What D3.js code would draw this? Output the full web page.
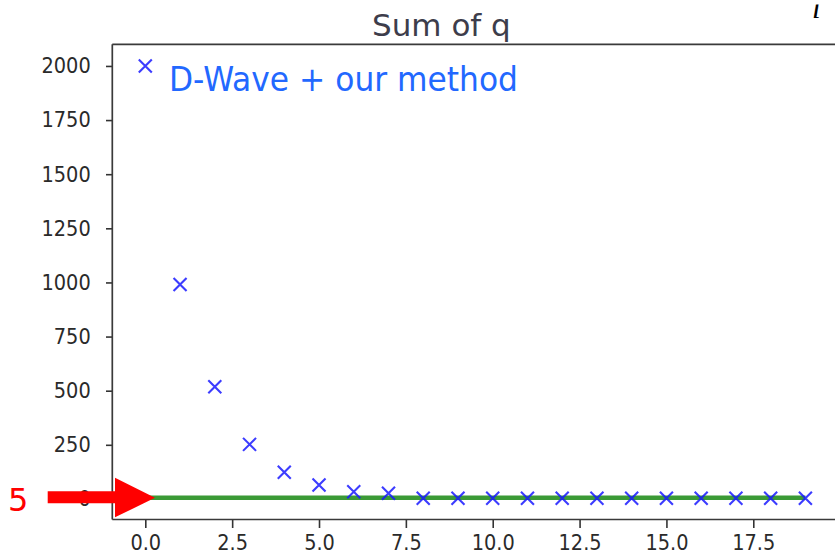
<!DOCTYPE html>
<html>
<head>
<meta charset="utf-8">
<script src="https://cdn.jsdelivr.net/npm/d3@7"></script>
<style>
  body { margin: 0; background: #fff; }
  svg { display: block; }
</style>
</head>
<body>
<div id="chart"></div>
<script>
// data
var iterations = [0,1,2,3,4,5,6,7,8,9,10,11,12,13,14,15,16,17,18,19]
var sumQ = [2000, 990, 518, 252, 123, 64, 33, 26, 3, 3, 3, 3, 3, 3, 3, 3, 3, 3, 3, 3]
var targetValue = 5
var yTicks = [0, 250, 500, 750, 1000, 1250, 1500, 1750, 2000]
var xTicks = [0, 2.5, 5, 7.5, 10, 12.5, 15, 17.5]
var titleText = "Sum of q"
var labelText = "D-Wave + our method"
var arrowLabel = "5"

var width = 835, height = 553
var margin = {top: 44.3, right: -3.4, bottom: 33.5, left: 112.3}

var svg = d3.select("#chart")
  .append("svg")
  .attr("width", width)
  .attr("height", height)

// matplotlib style 5% margins
var x = d3.scaleLinear()
  .domain([-0.95, 19.95])
  .range([margin.left, width - margin.right])

var y = d3.scaleLinear()
  .domain([-95, 2100])
  .range([height - margin.bottom, margin.top])

// axes
var yAxis = svg.append("g")
  .attr("transform", "translate(" + margin.left + ",0)")
  .call(d3.axisLeft(y).tickValues(yTicks).tickSize(6.3).tickPadding(15.3).tickFormat(d3.format("d")))
var xAxis = svg.append("g")
  .attr("transform", "translate(0," + (height - margin.bottom) + ")")
  .call(d3.axisBottom(x).tickValues(xTicks).tickSize(8.5).tickPadding(6.5).tickFormat(d3.format(".1f")))

;[xAxis, yAxis].forEach(function(a) {
  a.select(".domain").remove()
  a.selectAll("line").attr("stroke", "#333").attr("stroke-width", 1.6)
  a.selectAll("text")
    .attr("fill", "#2a2a2a")
    .style("font-family", "'DejaVu Sans Condensed', 'DejaVu Sans'")
    .style("font-stretch", "condensed")
    .style("font-size", "21.5px")
})

// spines
var x0 = x.range()[0], x1 = x.range()[1], yb = y.range()[0], yt = y.range()[1]
var spines = [[x0, yt, x0, yb], [x0, yb, x1, yb], [x0, yt, x1, yt], [x1, yt, x1, yb]]
svg.append("g").selectAll("line")
  .data(spines)
  .enter()
  .append("line")
    .attr("x1", function(d) { return d[0] })
    .attr("y1", function(d) { return d[1] })
    .attr("x2", function(d) { return d[2] })
    .attr("y2", function(d) { return d[3] })
    .attr("stroke", "#3a3a3a")
    .attr("stroke-width", 1.7)

// green target line
svg.append("line")
  .attr("x1", x(iterations[0]))
  .attr("x2", x(iterations[iterations.length - 1]))
  .attr("y1", y(targetValue))
  .attr("y2", y(targetValue))
  .attr("stroke", "#3b9a36")
  .attr("stroke-width", 4.5)

// x markers
var s = 6.5
svg.append("g")
  .selectAll("path")
  .data(iterations)
  .enter()
  .append("path")
    .attr("d", function(d, i) {
      var cx = x(d), cy = y(sumQ[i])
      return "M" + (cx - s) + "," + (cy - s) + "L" + (cx + s) + "," + (cy + s) +
             "M" + (cx - s) + "," + (cy + s) + "L" + (cx + s) + "," + (cy - s)
    })
    .attr("stroke", "#1a1aff")
    .attr("stroke-width", 2.1)
    .attr("stroke-opacity", 0.85)
    .attr("fill", "none")

// title
svg.append("text")
  .attr("x", 441.4)
  .attr("y", 35.7)
  .attr("text-anchor", "middle")
  .attr("fill", "#3d3d4b")
  .style("font-family", "DejaVu Sans")
  .style("font-size", "31px")
  .text(titleText)

// series label
svg.append("text")
  .attr("x", 169)
  .attr("y", 90.7)
  .attr("fill", "#2268ff")
  .attr("textLength", 349)
  .attr("lengthAdjust", "spacingAndGlyphs")
  .style("font-family", "DejaVu Sans")
  .style("font-size", "34.5px")
  .text(labelText)

// red arrow pointing at the target line
var tipX = x(0) + 9.7, tipY = y(targetValue)
svg.append("path")
  .attr("d", "M47.7," + (tipY - 6.5) + "L115," + (tipY - 6.5) + "L115," + (tipY - 20) +
             "L" + tipX + "," + tipY + "L115," + (tipY + 19.5) + "L115," + (tipY + 5.5) +
             "L47.7," + (tipY + 5.5) + "Z")
  .attr("fill", "#ff0000")

svg.append("text")
  .attr("x", 8)
  .attr("y", 510.6)
  .attr("fill", "#ff0000")
  .style("font-family", "DejaVu Sans")
  .style("font-size", "32px")
  .text(arrowLabel)

// italic letter at top right, its dot is cut off in the original
svg.append("clipPath")
  .attr("id", "topclip")
  .append("rect")
    .attr("x", 790).attr("y", 4.5).attr("width", 45).attr("height", 30)
svg.append("text")
  .attr("x", 812)
  .attr("y", 17.5)
  .attr("clip-path", "url(#topclip)")
  .attr("fill", "#000")
  .style("font-family", "Liberation Serif")
  .style("font-style", "italic")
  .style("font-size", "31px")
  .text("i")
</script>
</body>
</html>
